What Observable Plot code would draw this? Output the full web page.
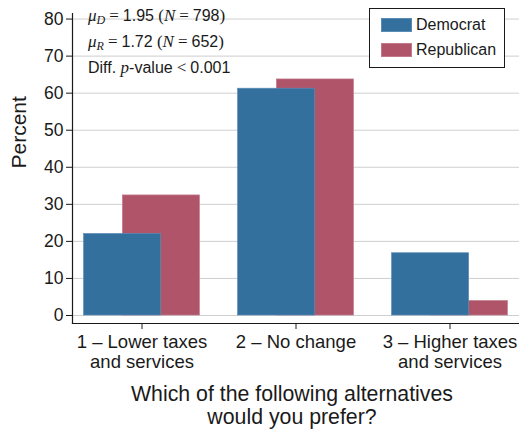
<!DOCTYPE html>
<html>
<head>
<meta charset="utf-8">
<script src="https://cdn.jsdelivr.net/npm/d3@7"></script>
<script src="https://cdn.jsdelivr.net/npm/@observablehq/plot@0.6"></script>
<style>
  body { margin: 0; background: #fff; }
  #wrap { position: relative; width: 519px; height: 432px; font-family: "Liberation Sans", Arial, sans-serif; color: #1a1a1a; }
  .ann { position: absolute; left: 88px; font-size: 16px; line-height: 16px; white-space: nowrap; }
  .m { font-family: "Liberation Serif", "Times New Roman", serif; font-size: 17px; }
  .eq { font-family: "Liberation Serif", "Times New Roman", serif; font-size: 17px; padding: 0 4px; }
  .mi { font-family: "Liberation Serif", "Times New Roman", serif; font-style: italic; font-size: 17px; }
  .sub { font-family: "Liberation Serif", serif; font-style: italic; font-size: 12px; position: relative; top: 3px; }
  #legend { position: absolute; left: 369px; top: 8px; width: 134px; height: 58px; border: 1px solid #1a1a1a; background: #fff; }
  .li { position: absolute; left: 11px; height: 14px; font-size: 16px; }
  .sw { position: absolute; left: 0; top: 0; width: 31px; height: 14px; box-sizing: border-box; }
  .lt { position: absolute; left: 35px; top: -2px; line-height: 18px; white-space: nowrap; }
</style>
</head>
<body>
<div id="wrap"></div>
<script>
// ---- data ----
const categories = ["1 – Lower taxes\nand services", "2 – No change", "3 – Higher taxes\nand services"];
const parties = ["Democrat", "Republican"];
const democrat = [22.0, 61.2, 16.8];
const republican = [32.4, 63.7, 3.9];
const partyColors = ["#33709e", "#af5469"];
const partyEdges = ["#5b8cb6", "#c27a8b"];
const yTicks = [0, 10, 20, 30, 40, 50, 60, 70, 80];
const yTitle = "Percent";
const xTitle = "Which of the following alternatives\nwould you prefer?";
const stats = [
  {party: "D", mean: "1.95", n: "798"},
  {party: "R", mean: "1.72", n: "652"}
];
const pValueText = "0.001";

const rowsD = categories.map((c, i) => ({category: c, party: parties[0], value: democrat[i]}));
const rowsR = categories.map((c, i) => ({category: c, party: parties[1], value: republican[i]}));

const chart = Plot.plot({
  width: 519,
  height: 432,
  marginLeft: 72,
  marginRight: 0,
  marginTop: 13,
  marginBottom: 109,
  style: {fontFamily: '"Liberation Sans", Arial, sans-serif', color: "#1a1a1a", background: "white", overflow: "visible"},
  x: {domain: categories, paddingInner: 0.5, paddingOuter: 0.1966, axis: null},
  y: {domain: [-2.16, 81.5], axis: null},
  marks: [
    Plot.gridY(yTicks, {stroke: "#cfcfcf", strokeOpacity: 1, strokeWidth: 1}),
    Plot.barY(rowsR, {x: "category", y: "value", fill: partyColors[1], stroke: partyEdges[1], strokeWidth: 0.7, dx: 19.4}),
    Plot.barY(rowsD, {x: "category", y: "value", fill: partyColors[0], stroke: partyEdges[0], strokeWidth: 0.7, dx: -19.4}),
    Plot.frame({anchor: "left", stroke: "#1a1a1a", strokeWidth: 1.2}),
    Plot.frame({anchor: "bottom", stroke: "#1a1a1a", strokeWidth: 1.2}),
    Plot.axisY({ticks: yTicks, tickSize: 6, tickPadding: 3, fontSize: 17.5, label: null, stroke: "#1a1a1a"}),
    Plot.axisX({tickSize: 6, tickPadding: 4, fontSize: 18.5, label: null, lineHeight: 1.08, stroke: "#1a1a1a"}),
    Plot.text([yTitle], {text: d => d, frameAnchor: "left", dx: -53, rotate: -90, fontSize: 21}),
    Plot.text([xTitle], {text: d => d, frameAnchor: "bottom", lineAnchor: "top", dy: 61, dx: -4, fontSize: 21.3, lineHeight: 1.08})
  ]
});

const wrap = document.getElementById("wrap");
wrap.appendChild(chart);

// annotation
const tops = [8, 34, 60];
stats.forEach((s, i) => {
  const d = document.createElement("div");
  d.className = "ann";
  d.style.top = tops[i] + "px";
  d.innerHTML = `<span class="mi">μ</span><span class="sub">${s.party}</span><span class="eq">=</span>${s.mean}<span class="m"> (</span><span class="mi">N</span><span class="eq">=</span>${s.n}<span class="m">)</span>`;
  wrap.appendChild(d);
});
const pd = document.createElement("div");
pd.className = "ann";
pd.style.top = tops[2] + "px";
pd.innerHTML = `Diff. <span class="mi">p</span>-value<span class="eq">&lt;</span>${pValueText}`;
wrap.appendChild(pd);

// legend
const lg = document.createElement("div");
lg.id = "legend";
const ltops = [9, 34];
parties.forEach((p, i) => {
  const it = document.createElement("div");
  it.className = "li";
  it.style.top = ltops[i] + "px";
  it.innerHTML = `<div class="sw" style="background:${partyColors[i]};border:1px solid ${partyEdges[i]}"></div><div class="lt">${p}</div>`;
  lg.appendChild(it);
});
wrap.appendChild(lg);
</script>
</body>
</html>
